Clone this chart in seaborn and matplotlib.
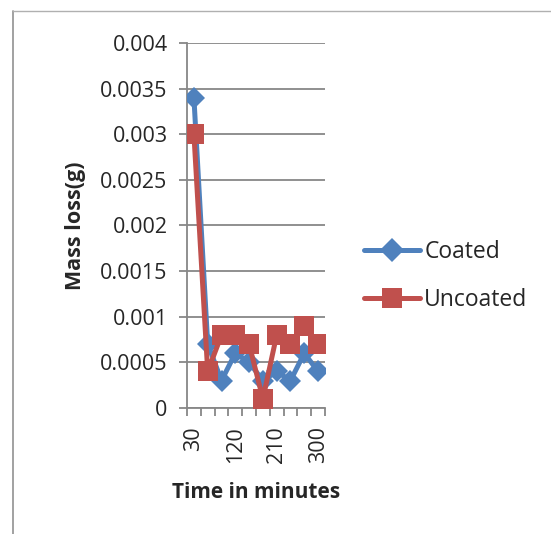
import matplotlib
matplotlib.use("Agg")
import matplotlib.pyplot as plt
from matplotlib.lines import Line2D
import seaborn as sns
import pandas as pd

# Mass loss readings per sampling time
times = [30, 60, 90, 120, 150, 180, 210, 240, 270, 300]
coated = [0.0034, 0.0007, 0.0003, 0.0006, 0.0005, 0.0003, 0.0004, 0.0003, 0.0006, 0.0004]
uncoated = [0.0030, 0.0004, 0.0008, 0.0008, 0.0007, 0.0001, 0.0008, 0.0007, 0.0009, 0.0007]
series_names = ["Coated", "Uncoated"]
y_ticks = [0, 0.0005, 0.001, 0.0015, 0.002, 0.0025, 0.003, 0.0035, 0.004]
y_tick_labels = ["0", "0.0005", "0.001", "0.0015", "0.002", "0.0025", "0.003", "0.0035", "0.004"]
x_label_times = [30, 120, 210, 300]

blue = "#4F81BD"
red = "#C0504D"
grid_gray = "#878787"

sns.set_theme(style="white")
plt.rcParams["font.family"] = ["Open Sans", "DejaVu Sans"]

df = pd.DataFrame({
    "time": times * 2,
    "loss": coated + uncoated,
    "series": [series_names[0]] * len(times) + [series_names[1]] * len(times),
})

fig = plt.figure(figsize=(5.51, 5.34), dpi=100)
ax = fig.add_axes([0.3394, 0.2360, 0.2504, 0.6835])

palette = {series_names[0]: blue, series_names[1]: red}
markers = {series_names[0]: "D", series_names[1]: "s"}
sns.lineplot(data=df, x="time", y="loss", hue="series", style="series",
             palette=palette, markers=markers, dashes=False, linewidth=3.6,
             markersize=11, markeredgewidth=0, legend=False, ax=ax, zorder=3)
# Square markers a bit larger
for line in ax.get_lines():
    if line.get_marker() == "s":
        line.set_markersize(14)

ax.set_xlim(15, 315)
ax.set_ylim(0, 0.004)
ax.set_yticks(y_ticks)
ax.set_yticklabels(y_tick_labels)
ax.set_xticks(x_label_times)
ax.set_xticklabels([str(t) for t in x_label_times], rotation=90)
ax.set_xticks([15 + 30 * i for i in range(11)], minor=True)

ax.yaxis.grid(True, color=grid_gray, linewidth=1.3)
ax.set_axisbelow(True)
for side in ("top", "right"):
    ax.spines[side].set_visible(False)
for side in ("left", "bottom"):
    ax.spines[side].set_color(grid_gray)
    ax.spines[side].set_linewidth(1.3)

ax.tick_params(axis="y", which="major", direction="out", length=6, width=1.3,
               color=grid_gray, labelsize=15.5, pad=8, left=True)
ax.tick_params(axis="x", which="major", length=0, labelsize=15.5, pad=13)
ax.tick_params(axis="x", which="minor", direction="out", length=6, width=1.3,
               color=grid_gray, bottom=True)

ax.set_xlabel("Time in minutes", fontsize=15, fontweight="bold", labelpad=14)
ax.set_ylabel("Mass loss(g)", fontsize=15.5, fontweight="bold", labelpad=10)

handles = [
    Line2D([], [], color=blue, marker="D", markersize=12, markeredgewidth=0, linewidth=3.6),
    Line2D([], [], color=red, marker="s", markersize=14, markeredgewidth=0, linewidth=3.6),
]
fig.legend(handles, series_names, loc="center left", bbox_to_anchor=(0.6606, 0.483),
           frameon=False, fontsize=16.5, handlelength=2.45, handletextpad=0.18,
           labelspacing=1.05, borderpad=0, borderaxespad=0)

# Chart area outline (left and top edges)
fig.add_artist(Line2D([0.024, 0.024], [0.0, 0.979], transform=fig.transFigure,
                      color="#9a9a9a", linewidth=1.3))
fig.add_artist(Line2D([0.024, 1.0], [0.979, 0.979], transform=fig.transFigure,
                      color="#b0b0b0", linewidth=1.0))

fig.savefig("out.png", dpi=100)
